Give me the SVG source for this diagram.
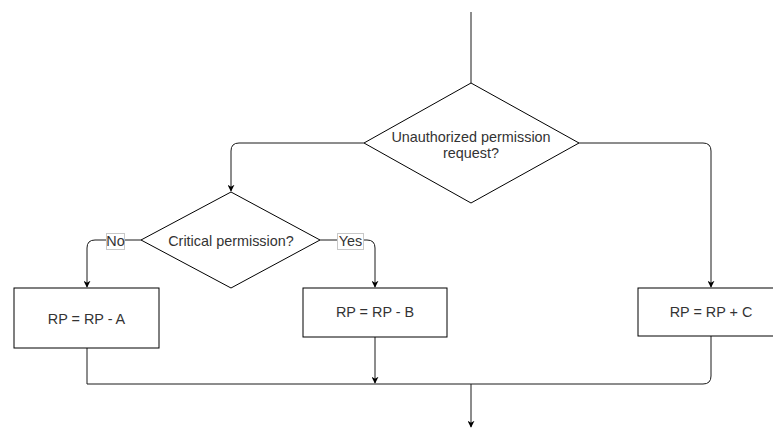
<svg xmlns="http://www.w3.org/2000/svg" width="773" height="429" viewBox="0 0 773 429">
  <defs>
    <style>
      .shape { fill: #ffffff; stroke: #000000; stroke-width: 1; }
      .edge { fill: none; stroke: #1a1a1a; stroke-width: 1; }
      .lbl { font-family: "Liberation Sans", Arial, sans-serif; font-size: 14.4px; fill: #333333; text-anchor: middle; dominant-baseline: central; }
      .tag { fill: #ffffff; stroke: #c8c8c8; stroke-width: 1; }
    </style>
    <marker id="arrow" viewBox="0 0 10 10" refX="9" refY="5" markerWidth="7" markerHeight="7" orient="auto" markerUnits="userSpaceOnUse">
      <path d="M0,0 L10,5 L0,10 L3,5 Z" fill="#000000"/>
    </marker>
  </defs>

  <!-- connectors -->
  <g id="connectors">
    <path class="edge" d="M471,12 V83"/>
    <path class="edge" d="M364,143 H239 Q231,143 231,151 V191" marker-end="url(#arrow)"/>
    <path class="edge" d="M579,143 H703 Q711,143 711,151 V287" marker-end="url(#arrow)"/>
    <path class="edge" d="M141,240 H95 Q87,240 87,248 V287" marker-end="url(#arrow)"/>
    <path class="edge" d="M320,240 H367 Q375,240 375,248 V287" marker-end="url(#arrow)"/>
    <path class="edge" d="M375,337 V383" marker-end="url(#arrow)"/>
    <path class="edge" d="M87,348 V384 H703 Q711,384 711,376 V336"/>
    <path class="edge" d="M471,384 V427" marker-end="url(#arrow)"/>
    <rect class="tag" x="106.5" y="233.5" width="18" height="16"/>
    <text class="lbl" x="115.5" y="241">No</text>
    <rect class="tag" x="337.5" y="233.5" width="26" height="16"/>
    <text class="lbl" x="350.5" y="241">Yes</text>
  </g>

  <g id="unauthorized">
    <polygon class="shape" points="471,83 579,143 471,203 364,143"/>
    <text class="lbl" x="471" y="137">Unauthorized permission</text>
    <text class="lbl" x="471" y="153">request?</text>
  </g>

  <g id="critical">
    <polygon class="shape" points="231,192 320,240 231,288 141,240"/>
    <text class="lbl" x="231" y="241">Critical permission?</text>
  </g>

  <g id="minus-a">
    <rect class="shape" x="14" y="288" width="145" height="60"/>
    <text class="lbl" x="86.5" y="319">RP = RP - A</text>
  </g>

  <g id="minus-b">
    <rect class="shape" x="303" y="288" width="144" height="49"/>
    <text class="lbl" x="375" y="312">RP = RP - B</text>
  </g>

  <g id="plus-c">
    <rect class="shape" x="638" y="288" width="146" height="48"/>
    <text class="lbl" x="711" y="312">RP = RP + C</text>
  </g>
</svg>
